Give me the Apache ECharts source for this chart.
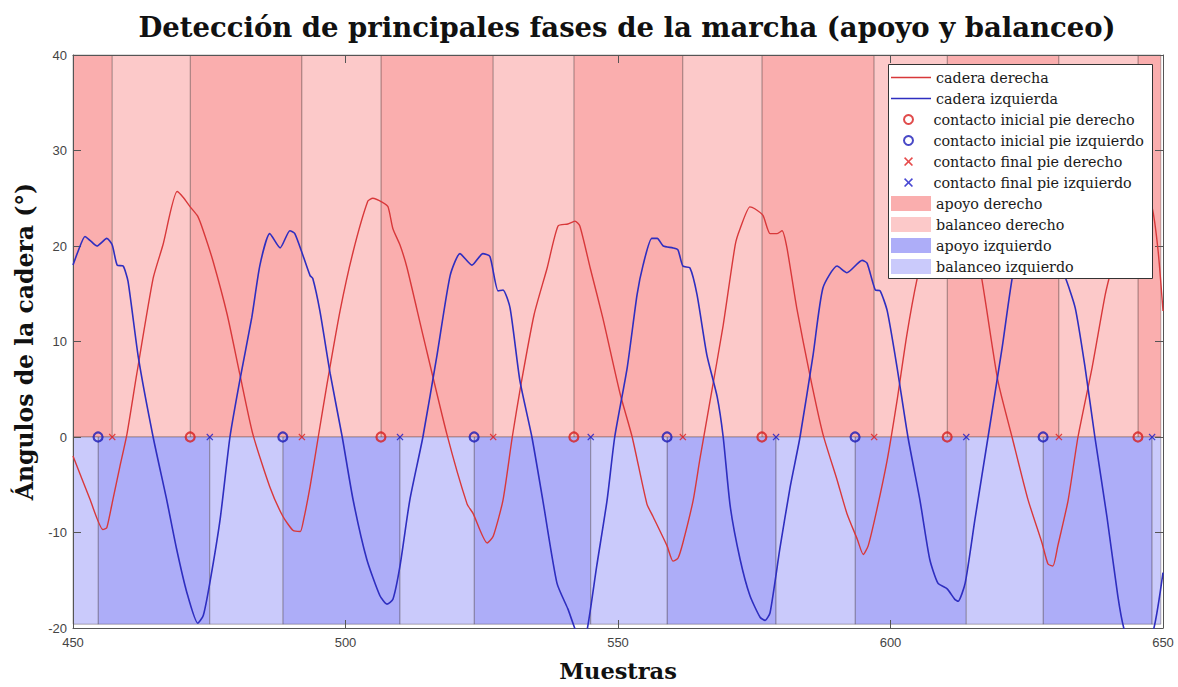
<!DOCTYPE html>
<html>
<head>
<meta charset="utf-8">
<script src="https://cdn.jsdelivr.net/npm/echarts@6/dist/echarts.min.js"></script>
<style>
  html, body { margin: 0; padding: 0; background: #fff; overflow: hidden; }
  #chart { width: 1178px; height: 687px; }
</style>
</head>
<body>
<div id="chart"></div>
<script>
// Ángulo de cadera por muestra: [muestra, grados]
const caderaDerecha = [
  [450.0,-2.0],[453.1,-6.5],[455.5,-9.7],[456.2,-9.5],[457.3,-6.6],[458.6,-3.1],[459.9,0.3],[461.7,6.6],
  [464.7,16.6],[466.5,20.1],[469.1,25.7],[470.2,25.1],[471.5,24.1],[472.9,23.1],[473.9,21.6],[475.7,18.4],
  [478.3,12.8],[480.6,6.6],[483.0,0.3],[486.1,-5.2],[488.5,-8.3],[490.4,-9.8],[491.7,-9.9],[492.3,-8.7],
  [493.5,-5.2],[495.0,0],[496.6,5.5],[499.0,13.2],[501.4,19.4],[504.1,24.7],[505.0,25.0],[506.7,24.6],
  [507.8,24.1],[508.7,21.8],[510.0,20.1],[511.3,17.7],[514.2,10.7],[518.6,0.3],[522.3,-7.0],[523.4,-8.0],
  [526.0,-11.1],[527.1,-10.4],[528.9,-6.6],[530.6,0],[532.2,5.5],[534.6,12.8],[537.0,17.7],[539.0,22.1],
  [540.8,22.3],[542.1,22.6],[543.0,22.1],[544.9,17.7],[547.2,12.5],[550.4,4.5],[552.6,0],[555.3,-7.0],
  [556.4,-8.3],[559.0,-11.4],[560.1,-13.0],[561.0,-12.7],[561.9,-11.1],[563.8,-6.6],[565.0,-2.4],[566.9,3.8],
  [569.3,11.7],[571.5,20.1],[572.4,21.8],[574.2,24.1],[575.1,23.9],[576.6,23.2],[577.9,21.3],[579.2,21.3],
  [580.1,21.6],[581.0,19.8],[582.8,13.5],[585.2,6.5],[587.6,0.3],[590.2,-4.5],[592.0,-8.0],[593.9,-10.7],
  [595.0,-12.3],[595.9,-11.4],[597.5,-7.6],[599.4,-2.4],[601.2,3.8],[603.0,10.7],[604.9,16.6],[607.0,21.5],
  [609.5,24.3],[611.5,24.6],[613.0,23.4],[614.5,21.2],[616.4,17.7],[619.7,5.9],[622.3,0],[625.2,-6.5],
  [627.8,-11.1],[628.9,-13.3],[629.8,-13.5],[630.7,-11.4],[632.6,-6.6],[634.4,0],[637.0,7.3],[639.4,14.9],
  [640.6,17.7],[642.5,21.5],[644.5,24.0],[646.5,24.8],[648.0,24.0],[649.1,19.5],[650.0,13.2]
];

const caderaIzquierda = [
  [450.0,18.0],[450.9,19.4],[452.2,21.0],[453.1,20.6],[454.4,20.0],[456.2,20.8],[457.2,20.1],[458.1,18.0],
  [459.2,17.9],[460.1,16.3],[462.0,8.3],[464.7,0],[467.2,-6.6],[469.0,-11.7],[470.9,-16.3],[472.9,-19.5],
  [473.9,-18.7],[475.1,-15.3],[477.0,-8.6],[478.8,0],[480.6,5.9],[482.8,12.5],[484.3,18.0],[486.1,21.3],
  [488.0,19.8],[489.8,21.6],[490.7,21.3],[492.2,19.0],[493.5,16.9],[494.0,16.6],[495.3,13.2],[497.2,6.6],
  [499.4,0],[501.4,-6.6],[503.9,-12.8],[506.3,-16.6],[507.6,-17.5],[508.7,-17.0],[510.0,-13.5],[511.8,-6.6],
  [514.2,0],[516.8,8.6],[519.2,16.9],[521.0,19.2],[523.2,18.0],[525.2,19.2],[526.5,18.9],[528.0,15.3],
  [528.9,15.4],[530.2,13.5],[532.0,5.9],[534.2,0],[536.2,-6.6],[538.8,-15.3],[540.8,-18.0],[543.3,-21.5],
  [544.3,-20.3],[546.1,-13.5],[548.0,-6.6],[549.4,0],[551.7,7.3],[553.5,14.9],[554.6,18.0],[556.2,20.8],
  [557.2,20.8],[558.3,20.0],[560.1,19.8],[561.0,19.6],[561.9,17.9],[563.2,17.7],[564.5,14.9],[566.3,8.6],
  [568.2,4.2],[569.3,0],[570.6,-7.3],[572.4,-12.8],[574.2,-16.6],[576.1,-18.9],[577.0,-19.2],[577.9,-18.4],
  [579.7,-11.7],[581.6,-5.2],[583.4,0],[585.8,8.6],[587.6,15.6],[590.2,17.9],[592.0,17.2],[594.8,18.5],
  [595.7,18.2],[597.2,15.4],[598.1,15.3],[599.4,13.2],[601.2,7.3],[603.2,0],[605.4,-6.6],[607.2,-12.8],
  [608.7,-15.3],[610.4,-15.9],[611.8,-17.0],[612.4,-17.2],[613.7,-15.3],[615.5,-8.6],[617.9,0],[620.5,9.4],
  [622.6,17.5],[624.5,20.3],[626.5,19.4],[628.5,20.5],[630.3,18.6],[632.0,16.8],[633.9,13.5],[635.7,7.3],
  [637.5,0],[639.7,-8.3],[641.7,-16.6],[642.8,-20.0],[645.0,-24.0],[648.2,-20.3],[650.0,-14.2]
];

// Eventos de la marcha (muestra)
const contactoInicialDerecho   = [471.5, 506.5, 541.9, 576.4, 610.4, 645.4];
const contactoInicialIzquierdo = [454.6, 488.5, 523.6, 559.0, 593.5, 628.0];
const contactoFinalDerecho     = [457.2, 492.0, 527.1, 561.9, 597.0, 630.9];
const contactoFinalIzquierdo   = [475.1, 510.0, 545.0, 579.0, 613.9, 648.0];

const muestraInicio = 450, muestraFin = 649.6;

// Divide el registro en intervalos de apoyo (contacto inicial -> final) y balanceo (final -> inicial)
function fases(inicial, final) {
  const ev = inicial.map(s => ({ s, t: 'i' })).concat(final.map(s => ({ s, t: 'f' })))
    .sort((a, b) => a.s - b.s);
  const apoyo = [], balanceo = [];
  let prev = muestraInicio;
  ev.forEach(e => {
    (e.t === 'f' ? apoyo : balanceo).push([prev, e.s]);
    prev = e.s;
  });
  (ev[ev.length - 1].t === 'i' ? apoyo : balanceo).push([prev, muestraFin]);
  return { apoyo, balanceo };
}
const derecho = fases(contactoInicialDerecho, contactoFinalDerecho);
const izquierdo = fases(contactoInicialIzquierdo, contactoFinalIzquierdo);

const SERIF = 'DejaVu Serif';
const SANS = 'Liberation Sans';

function bandas(intervalos, y0, y1) {
  return intervalos.map(([a, b]) => [a, b, y0, y1]);
}
function rectItem(params, api) {
  const p0 = api.coord([api.value(0), api.value(3)]);
  const p1 = api.coord([api.value(1), api.value(2)]);
  return {
    type: 'rect',
    shape: { x: p0[0], y: p0[1], width: p1[0] - p0[0], height: p1[1] - p0[1] },
    style: { fill: api.visual('color'), stroke: 'rgba(60,45,45,0.35)', lineWidth: 1 }
  };
}
function banda(name, data, color) {
  return {
    name, type: 'custom', renderItem: rectItem, data,
    encode: { x: [0, 1], y: [2, 3] },
    itemStyle: { color }, z: 1, silent: true
  };
}
// aspa rellena para el contacto final
const aspa = 'path://M0,1 L1,0 L4,3 L7,0 L8,1 L5,4 L8,7 L7,8 L4,5 L1,8 L0,7 L3,4 Z';
function eventos(name, xs, symbol, color, hueco) {
  return {
    name, type: 'scatter', data: xs.map(s => [s, 0]),
    symbol, symbolSize: hueco ? 9 : 7,
    itemStyle: hueco
      ? { color: 'rgba(255,255,255,0)', borderColor: color, borderWidth: 2.2 }
      : { color },
    z: 5, silent: true
  };
}

const legendText = { fontFamily: SERIF, fontSize: 14.3, color: '#1a1a1a', lineHeight: 21 };
const legendBase = {
  orient: 'vertical', left: 891, itemGap: 0, padding: 0, textGap: 4,
  selectedMode: false, textStyle: legendText, z: 20, itemWidth: 40
};

const chart = echarts.init(document.getElementById('chart'), null, { renderer: 'svg' });
chart.setOption({
  animation: false,
  backgroundColor: '#fff',
  title: {
    text: 'Detección de principales fases de la marcha (apoyo y balanceo)',
    left: 622, textAlign: 'center', top: 8,
    textStyle: { fontFamily: SERIF, fontWeight: 'bold', fontSize: 27.5, color: '#111' }
  },
  grid: { left: 73, top: 55, width: 1090, height: 581, containLabel: false },
  xAxis: [{
    type: 'value', min: 450, max: 650, interval: 50, z: 2,
    axisLine: { show: true, onZero: false, lineStyle: { color: '#555' } },
    axisTick: { show: true, inside: true, length: 8, lineStyle: { color: '#555' } },
    axisLabel: { margin: 8, fontFamily: SANS, fontSize: 13, color: '#444' },
    splitLine: { show: false },
    name: 'Muestras', nameLocation: 'middle', nameGap: 31,
    nameTextStyle: { fontFamily: SERIF, fontWeight: 'bold', fontSize: 22.5, color: '#111' }
  }, {
    type: 'value', position: 'top', min: 450, max: 650, interval: 50, z: 2,
    axisLine: { show: true, onZero: false, lineStyle: { color: '#555' } },
    axisTick: { show: true, inside: true, length: 8, lineStyle: { color: '#555' } },
    axisLabel: { show: false }, splitLine: { show: false }
  }],
  yAxis: [{
    type: 'value', min: -20, max: 40, interval: 10, z: 2,
    axisLine: { show: true, onZero: false, lineStyle: { color: '#555' } },
    axisTick: { show: true, inside: true, length: 8, lineStyle: { color: '#555' } },
    axisLabel: { margin: 6, fontFamily: SANS, fontSize: 13, color: '#444' },
    splitLine: { show: false },
    name: 'Ángulos de la cadera (°)', nameLocation: 'middle', nameGap: 33,
    nameTextStyle: { fontFamily: SERIF, fontWeight: 'bold', fontSize: 23.5, color: '#111' }
  }, {
    type: 'value', position: 'right', min: -20, max: 40, interval: 10, z: 2,
    axisLine: { show: true, onZero: false, lineStyle: { color: '#555' } },
    axisTick: { show: true, inside: true, length: 8, lineStyle: { color: '#555' } },
    axisLabel: { show: false }, splitLine: { show: false }
  }],
  legend: [
    Object.assign({}, legendBase, {
      top: 67, itemHeight: 1.6, icon: 'rect',
      data: ['cadera derecha', 'cadera izquierda']
    }),
    Object.assign({}, legendBase, {
      top: 109, itemHeight: 9, left: 903,
      data: ['contacto inicial pie derecho', 'contacto inicial pie izquierdo',
             'contacto final pie derecho', 'contacto final pie izquierdo']
    }),
    Object.assign({}, legendBase, {
      top: 193, itemHeight: 15, icon: 'rect',
      data: ['apoyo derecho', 'balanceo derecho', 'apoyo izquierdo', 'balanceo izquierdo']
    })
  ],
  graphic: {
    elements: [{
      type: 'rect', left: 888, top: 64, z: 10, silent: true,
      shape: { width: 264, height: 214 },
      style: { fill: '#fff', stroke: '#333', lineWidth: 1 }
    }]
  },
  series: [
    banda('apoyo derecho', bandas(derecho.apoyo, 0, 40), '#FAAEAE'),
    banda('balanceo derecho', bandas(derecho.balanceo, 0, 40), '#FCC9C9'),
    banda('apoyo izquierdo', bandas(izquierdo.apoyo, -19.6, 0), '#ADADF8'),
    banda('balanceo izquierdo', bandas(izquierdo.balanceo, -19.6, 0), '#CACAFB'),
    {
      name: 'cadera derecha', type: 'line', data: caderaDerecha, symbol: 'none',
      smooth: 0.2, lineStyle: { color: '#D8383A', width: 1.4 }, itemStyle: { color: '#D8383A' },
      z: 3, silent: true
    },
    {
      name: 'cadera izquierda', type: 'line', data: caderaIzquierda, symbol: 'none',
      smooth: 0.2, lineStyle: { color: '#2E2EC0', width: 1.6 }, itemStyle: { color: '#2E2EC0' },
      z: 3, silent: true
    },
    eventos('contacto inicial pie derecho', contactoInicialDerecho, 'circle', '#D81E1E', true),
    eventos('contacto inicial pie izquierdo', contactoInicialIzquierdo, 'circle', '#1A1AB8', true),
    eventos('contacto final pie derecho', contactoFinalDerecho, aspa, '#E01E1E', false),
    eventos('contacto final pie izquierdo', contactoFinalIzquierdo, aspa, '#1A1AC8', false)
  ]
});
</script>
</body>
</html>
